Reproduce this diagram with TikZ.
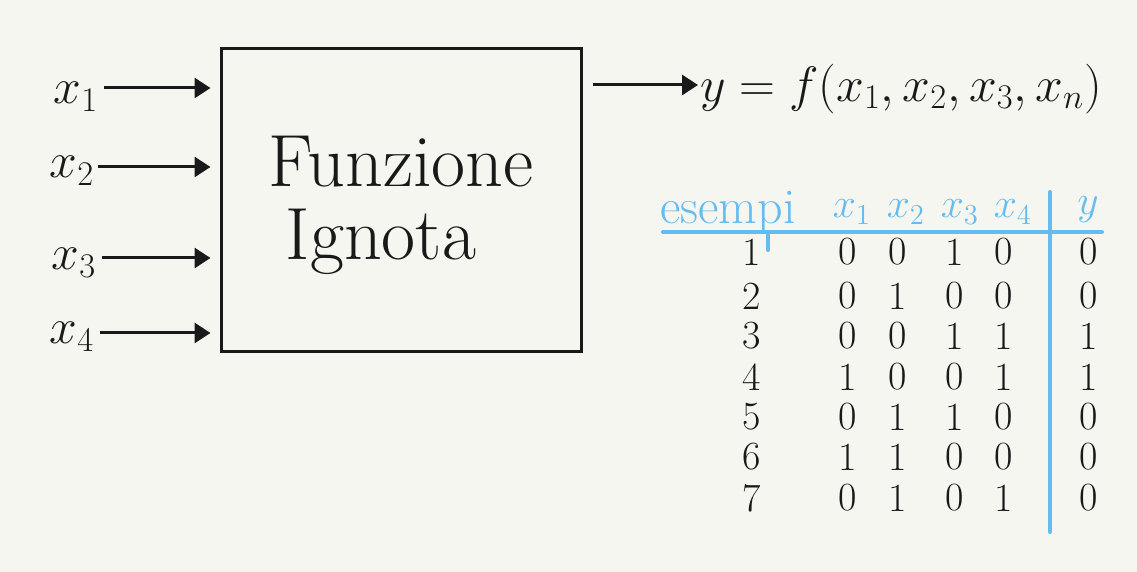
\documentclass[tikz,border=0pt]{standalone}
\usetikzlibrary{arrows.meta}
\definecolor{bg}{RGB}{246,246,241}
\definecolor{ink}{RGB}{25,25,25}
\definecolor{sky}{RGB}{100,188,240}
\newcommand{\tabrowx}[7]{%
  \node[cell] (n#1) at (752,#2) {#1};
  \node[cell] (r#1c1) at (848,#2) {#3};
  \node[cell] (r#1c2) at (898,#2) {#4};
  \node[cell] (r#1c3) at (955,#2) {#5};
  \node[cell] (r#1c4) at (1004,#2) {#6};
  \node[cell] (r#1y) at (1089,#2) {#7};
}
\begin{document}
\begin{tikzpicture}[x=0.5pt,y=-0.5pt,
  every node/.style={text=ink, inner sep=0pt},
  arr/.style={draw=ink, line width=1.5pt, -{Triangle[length=8pt,width=10pt]}},
  lbl/.style={font=\fontsize{26}{28}\selectfont},
  outf/.style={font=\fontsize{25.5}{28}\selectfont},
  big/.style={font=\fontsize{37}{40}\selectfont},
  cell/.style={font=\fontsize{20}{22}\selectfont},
  head/.style={text=sky, font=\fontsize{22}{24}\selectfont},
  tline/.style={draw=sky, line width=2pt, line cap=round}]
\fill[bg] (0,0) rectangle (1137,572);
\useasboundingbox (0,0) rectangle (1137,572);
% box
\node[draw=ink, line width=1.5pt, minimum width=180pt, minimum height=151.5pt] (box) at (401,200.5) {};
\node[big] (t1) at (401,162) {Funzione};
\node[big] (t2) at (381,242) {Ignota};
% inputs
\node[lbl] (x1) at (76,97) {$x_1$};
\node[lbl] (x2) at (72,171) {$x_2$};
\node[lbl] (x3) at (74,263) {$x_3$};
\node[lbl] (x4) at (72,337) {$x_4$};
\coordinate (a1) at (104,88);
\coordinate (a2) at (98,167);
\coordinate (a3) at (102,258);
\coordinate (a4) at (100,333);
\foreach \i in {1,2,3,4} {
  \draw[arr, shorten >=4.5pt] (a\i) -- (a\i -| box.west);
}
% output
\coordinate (o1) at (593,85);
\node[outf, anchor=west] (out) at (700,89) {$y=f(x_1,x_2,x_3,x_n)$};
\draw[arr, shorten >=1pt] (o1) -- (out.west |- o1);
% table header
\node[head, font=\fontsize{25}{27}\selectfont] (hes) at (728,212) {esempi};
\node[head] (h1) at (852,212) {$x_1$};
\node[head] (h2) at (906,212) {$x_2$};
\node[head] (h3) at (960,212) {$x_3$};
\node[head] (h4) at (1013,212) {$x_4$};
\node[head] (hy) at (1088,210) {$y$};
\coordinate (hl0) at (663,232);
\coordinate (hl1) at (1102,232);
\coordinate (vl0) at (1050,192);
\coordinate (vl1) at (1050,532);
\coordinate (tk0) at (768,233);
\coordinate (tk1) at (768,250);
\draw[tline] (hl0) -- (hl1);
\draw[tline] (vl0) -- (vl1);
\draw[tline] (tk0) -- (tk1);
% rows
\tabrowx{1}{252}{0}{0}{1}{0}{0}
\tabrowx{2}{296}{0}{1}{0}{0}{0}
\tabrowx{3}{336}{0}{0}{1}{1}{1}
\tabrowx{4}{377}{1}{0}{0}{1}{1}
\tabrowx{5}{417}{0}{1}{1}{0}{0}
\tabrowx{6}{457}{1}{1}{0}{0}{0}
\tabrowx{7}{498}{0}{1}{0}{1}{0}
\end{tikzpicture}
\end{document}
